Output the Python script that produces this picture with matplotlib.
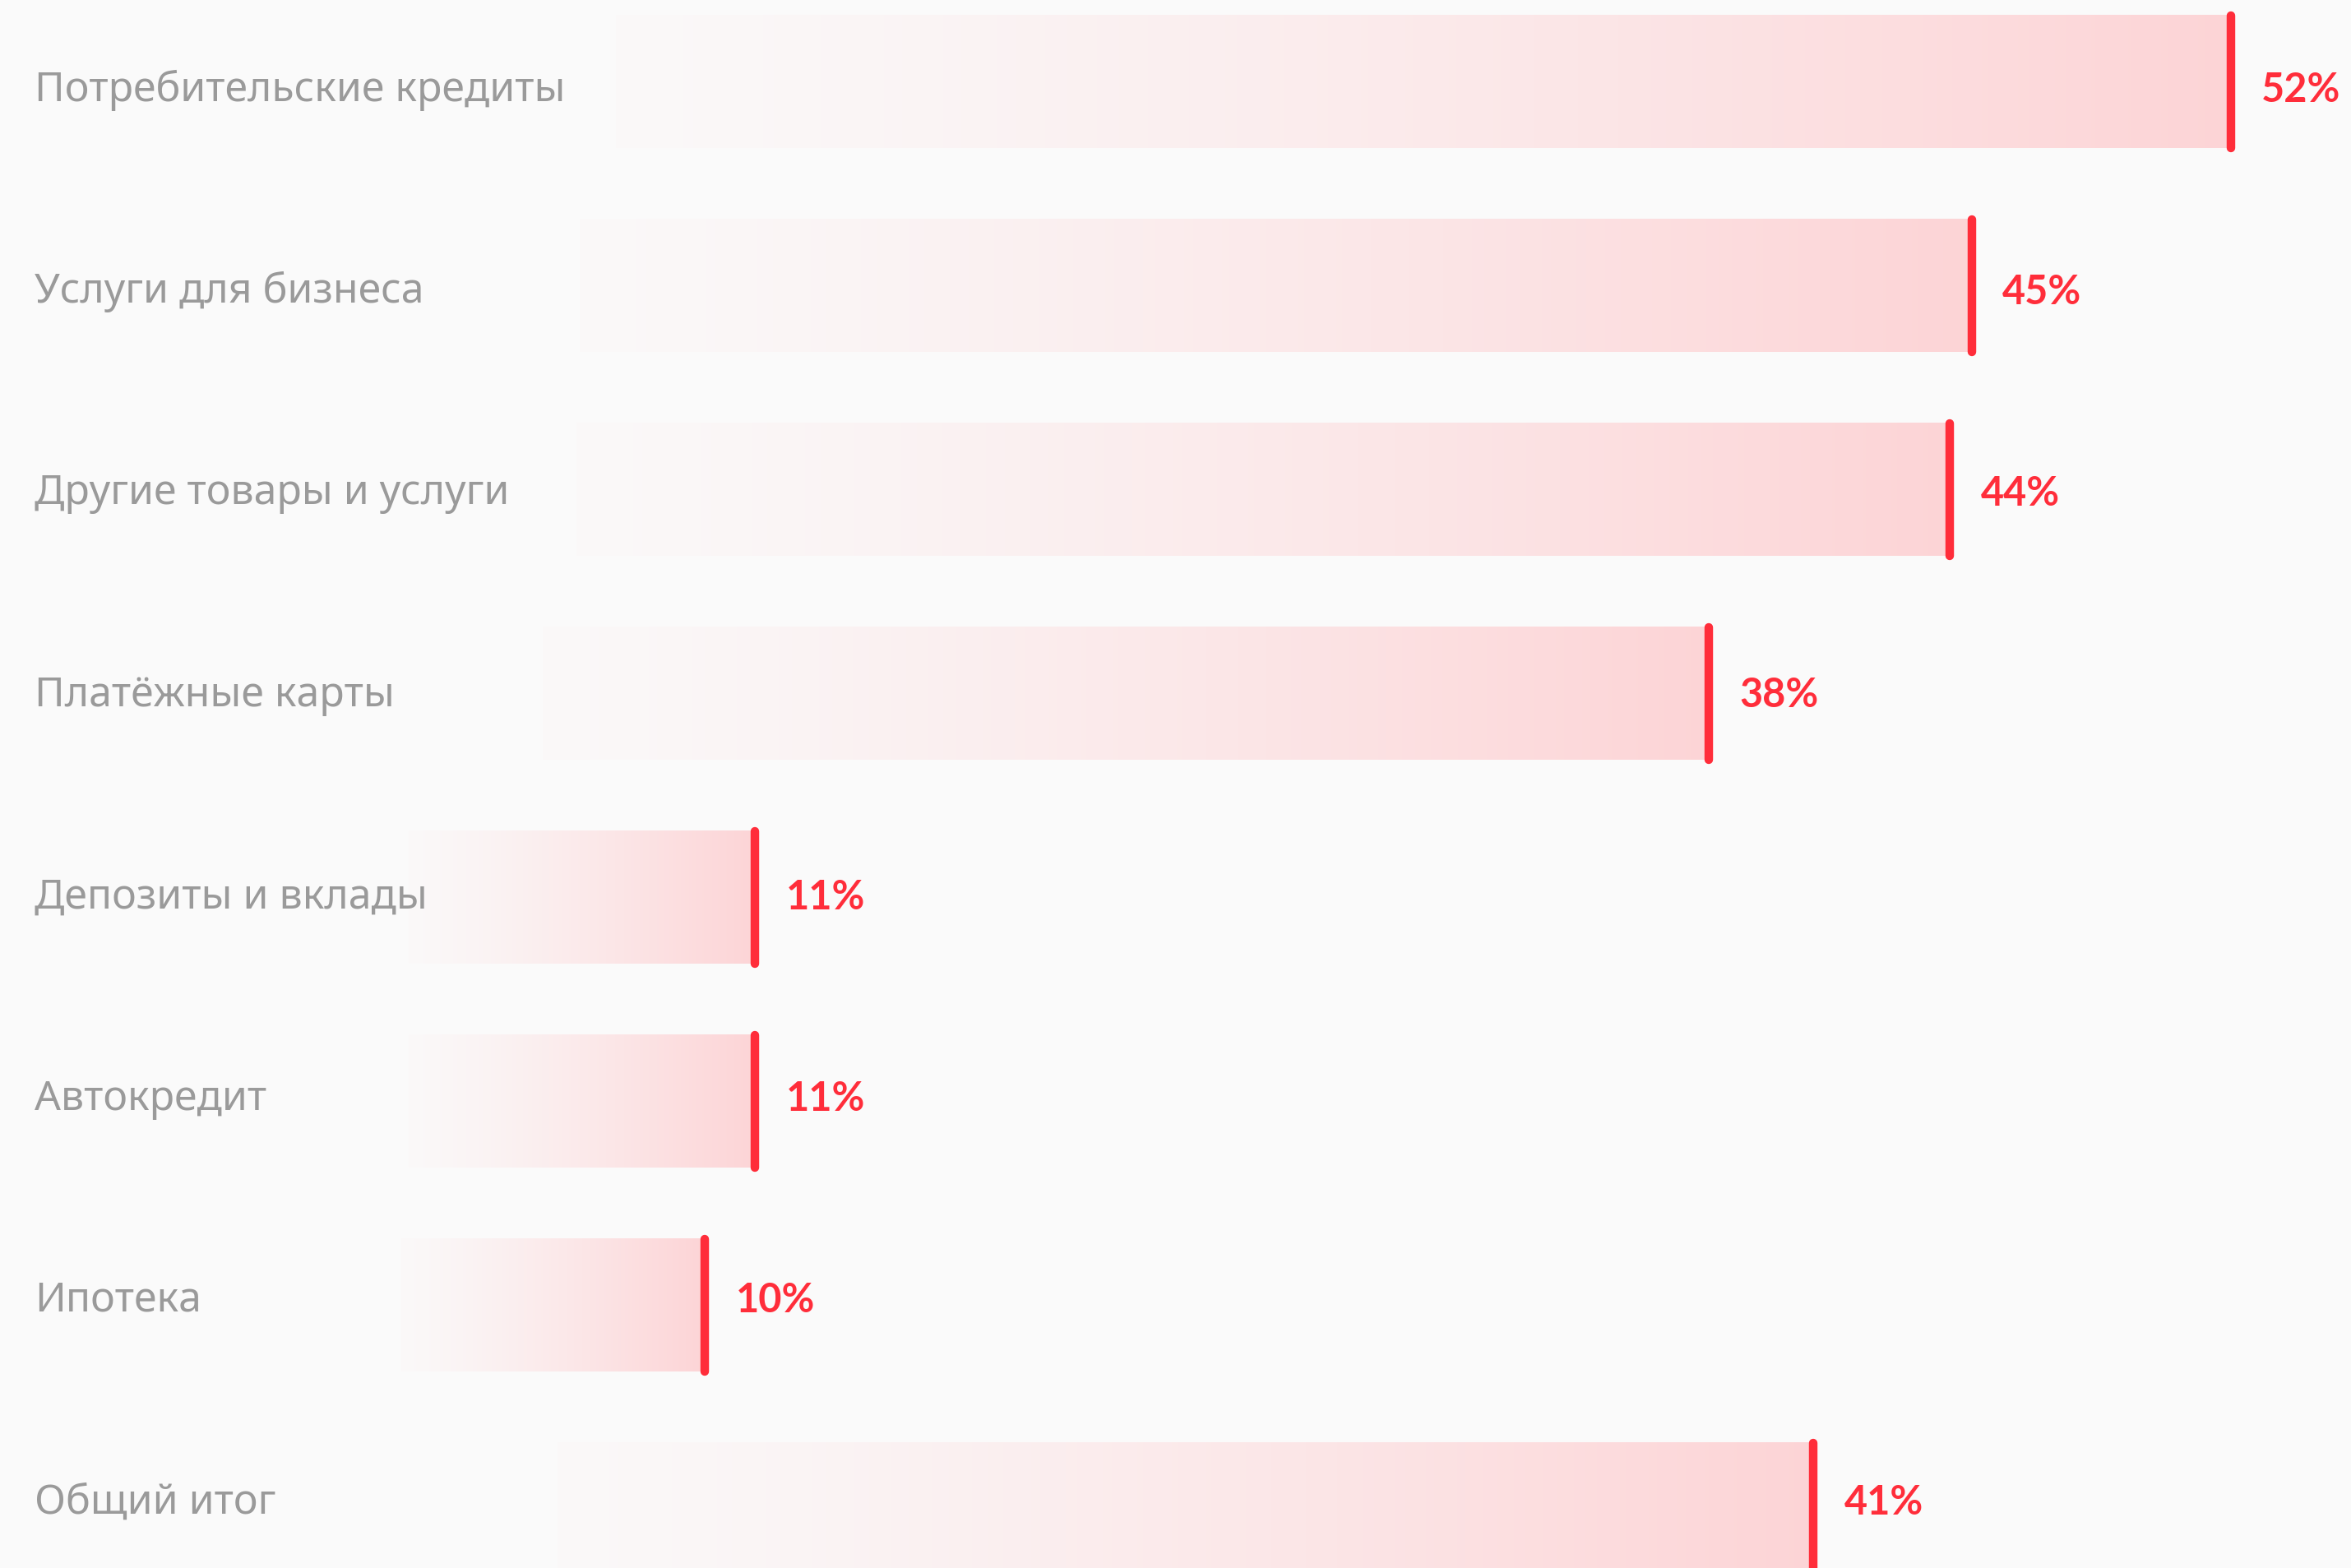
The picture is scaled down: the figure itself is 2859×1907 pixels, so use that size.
import numpy as np
import matplotlib
matplotlib.use("Agg")
import matplotlib.pyplot as plt
from matplotlib.transforms import blended_transform_factory

categories = [
    "Потребительские кредиты",
    "Услуги для бизнеса",
    "Другие товары и услуги",
    "Платёжные карты",
    "Депозиты и вклады",
    "Автокредит",
    "Ипотека",
    "Общий итог",
]
values = [52.2, 45.0, 44.4, 37.7, 11.2, 11.2, 9.8, 40.6]
value_labels = ["52%", "45%", "44%", "38%", "11%", "11%", "10%", "41%"]

BG = "#fafafa"
PINK = np.array([253, 212, 214]) / 255
RED = "#ff2d3a"
GRAY = "#9a9a9a"

plt.rcParams["font.family"] = ["Noto Sans", "DejaVu Sans"]

fig = plt.figure(figsize=(28.59, 19.08), dpi=100, facecolor=BG)
ax = fig.add_axes([0, 0, 1, 1])
ax.set_facecolor(BG)

bar_h = 0.65
# gradient: nothing for the first ~14% of the bar, then fades in to pink
t = np.linspace(0, 1, 512)
s = np.clip((t - 0.14) / 0.86, 0, 1)
ramp = np.where(t < 0.14, 0.0, 0.04 + 0.96 * s ** 1.3)
grad = np.zeros((1, t.size, 4))
grad[..., :3] = PINK
grad[..., 3] = ramp

# text rows sit on a slightly tighter grid than the bars
text_y = [i * 0.9894 + 0.037 for i in range(len(categories))]

for i, (v, lab) in enumerate(zip(values, value_labels)):
    ax.imshow(grad, extent=(0, v, i + bar_h / 2, i - bar_h / 2),
              aspect="auto", interpolation="nearest", zorder=1)
    ax.vlines(v, i - bar_h / 2, i + bar_h / 2, color=RED, linewidth=7.5,
              capstyle="round", zorder=3)
    ax.annotate(lab, (v, text_y[i]), xytext=(27, 0), textcoords="offset points",
                ha="left", va="center", color=RED, fontsize=35,
                fontweight="bold", family=["Lato", "DejaVu Sans"])

trans = blended_transform_factory(ax.transAxes, ax.transData)
for name, y in zip(categories, text_y):
    ax.text(0.0147, y, name, transform=trans, ha="left", va="center",
            color=GRAY, fontsize=36)

ax.set_xlim(-9.78, 55.54)
ax.set_ylim(7.288, -0.405)
ax.axis("off")

fig.savefig("out.png", dpi=100, facecolor=BG)
